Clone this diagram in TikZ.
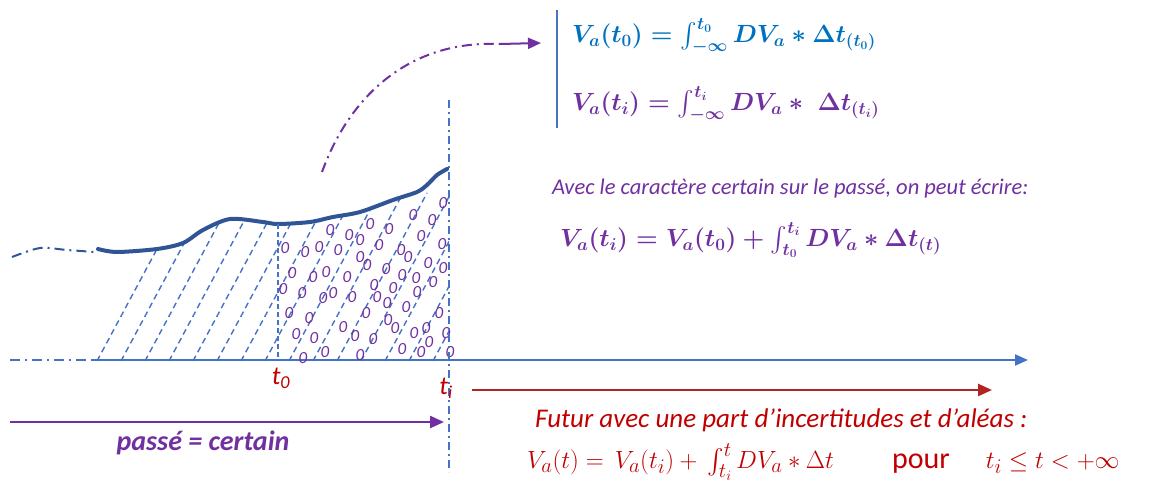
\documentclass[tikz,border=0pt]{standalone}
\usepackage{amsmath}
\usepackage{fontspec}
\setmainfont{Carlito}
\usetikzlibrary{arrows.meta}

\definecolor{axisblue}{RGB}{68,114,196}
\definecolor{curveblue}{RGB}{47,85,151}
\definecolor{eqblue}{RGB}{0,112,192}
\definecolor{pastpurple}{RGB}{112,48,160}
\definecolor{futred}{RGB}{192,0,0}
\definecolor{arrowred}{RGB}{176,36,36}

\begin{document}
\begin{tikzpicture}[
    x=1pt, y=-1pt,
    axis/.style={axisblue, line width=2pt},
    dashdot/.style={dash pattern=on 10pt off 5pt on 2pt off 5pt},
    hatch/.style={axisblue, line width=1.4pt, dash pattern=on 6pt off 4pt},
    omark/.style={pastpurple, font=\fontsize{17}{17}\selectfont\itshape, inner sep=0pt},
    tick label/.style={futred, font=\fontsize{26}{26}\selectfont\itshape, inner sep=0pt},
    equation/.style={anchor=west, inner sep=0pt, font=\fontsize{30}{32}\selectfont},
    bold equation/.style={anchor=west, inner sep=0pt, font=\fontsize{23}{26}\selectfont\mathversion{bold}},
    comment/.style={anchor=west, inner sep=0pt, font=\fontsize{22.5}{26}\selectfont\itshape},
    big arrow/.style={line width=2.5pt, -{Triangle[length=14pt,width=12pt]}}
  ]
  \useasboundingbox (0,0) rectangle (1155,485);

  % Time axis
  \coordinate (A-left) at (10,360);
  \coordinate (A-start) at (92,360);
  \coordinate (A-end) at (1028,360);
  \draw[axis, dashdot] (A-left) -- (A-start);
  \draw[axis, -{Triangle[length=13pt,width=11pt]}] (A-start) -- (A-end);

  % Hatching under the curve
  \begin{scope}
    \clip (95,361) -- (155,250) -- (183,243) -- (203,230) -- (230,219) -- (263,222)
      -- (278,224) -- (310,222) -- (333,217) -- (360,212) -- (393,200) -- (417,192)
      -- (427,185) -- (437,175) -- (449,168) -- (449,361) -- cycle;
    \foreach \k in {0,...,17}
      \draw[hatch] (97+24*\k,361) -- ++(90,-168);
  \end{scope}

  % Uncertainty marks between t0 and ti
  \foreach \x/\y [count=\n] in {285/248, 305/252, 319/247, 330/230, 338/250, 349/235,
      360/240, 370/224, 379/245, 389/229, 401/250, 408/257, 413/215, 421/236,
      432/220, 443/203, 442/244, 428/263, 443/268, 433/282, 417/292, 416/278,
      402/275, 393/288, 386/269, 367/265, 360/257, 374/285, 377/297, 347/277,
      326/272, 313/277, 292/273, 283/289, 302/293, 323/298, 333/293, 352/297,
      387/303, 406/307, 388/320, 395/328, 366/313, 343/327, 355/336, 373/339,
      309/318, 289/313, 296/334, 314/338, 325/352, 303/358, 360/355, 402/349,
      421/352, 429/342, 426/328, 414/333, 439/313, 446/333, 450/352}
    \node[omark] (o-\n) at (\x,\y) {0};

  % Value curve
  \draw[curveblue, line width=2pt, dashdot] plot[smooth] coordinates {(12,257) (40,248) (67,250) (95,252)};
  \draw[curveblue, line width=4pt, line cap=round, line join=round]
    plot[smooth, tension=0.5] coordinates {(98,249) (117,252) (157,249) (183,243)
      (203,230) (230,219) (263,222) (278,224) (310,222) (333,217) (360,212)
      (393,200) (417,192) (427,185) (437,175) (447,169)};

  % Time marks
  \coordinate (t0-top) at (278,224);
  \coordinate (t0-foot) at (278,360);
  \coordinate (ti-top) at (449,100);
  \coordinate (ti-foot) at (449,472);
  \draw[axisblue, line width=1.5pt, dash pattern=on 5pt off 3pt] (t0-top) -- (t0-foot);
  \draw[axisblue, line width=1.8pt, dash pattern=on 8pt off 4pt on 2pt off 4pt] (ti-top) -- (ti-foot);
  \node[tick label] (t0) at (281,378) {t\textsubscript{0}};
  \node[tick label] (ti) at (446,388) {t\textsubscript{i}};

  % Past
  \coordinate (P-start) at (10,422);
  \coordinate (P-end) at (444,422);
  \draw[pastpurple, big arrow] (P-start) -- (P-end);
  \node[pastpurple, font=\fontsize{28}{30}\selectfont\bfseries\itshape] (past) at (203,443) {passé = certain};

  % Future
  \coordinate (F-start) at (472,390);
  \coordinate (F-end) at (992,390);
  \draw[arrowred, big arrow] (F-start) -- (F-end);
  \node[comment, futred, font=\fontsize{27}{30}\selectfont\itshape] (future) at (535,420) {Futur avec une part d’incertitudes et d’aléas :};
  \node[equation, futred] (future-eq) at (527,462)
    {$V_a(t) = \,V_a(t_i) + \,\int_{t_i}^{t} DV_a * \Delta t$\hspace{58pt}pour\hspace{36pt}$t_i \le t < +\infty$};

  % Integral definitions
  \coordinate (B-top) at (557,10);
  \coordinate (B-bot) at (557,128);
  \draw[axisblue, line width=2pt] (B-top) -- (B-bot);
  \node[bold equation, eqblue] (eq-a) at (572,36)
    {$V_a(t_0) = \int_{-\infty}^{t_0} DV_a * \Delta t_{(t_0)}$};
  \node[bold equation, pastpurple] (eq-b) at (572,104)
    {$V_a(t_i) = \int_{-\infty}^{t_i} DV_a * \;\Delta t_{(t_i)}$};

  % Link from the curve to the definitions
  \coordinate (C-start) at (322,172);
  \coordinate (C-mid) at (500,44);
  \coordinate (C-end) at (541,43);
  \draw[pastpurple, line width=2pt, dashdot] (C-start) .. controls (350,95) and (410,40) .. (C-mid);
  \draw[pastpurple, line width=2pt, -{Triangle[length=13pt,width=11pt]}] (C-mid) -- (C-end);

  % Certain past
  \node[comment, pastpurple] (certain) at (552,188)
    {Avec le caractère certain sur le passé, on peut écrire:};
  \node[bold equation, pastpurple] (eq-c) at (560,240)
    {$V_a(t_i) = V_a(t_0) + \int_{t_0}^{t_i} DV_a * \Delta t_{(t)}$};
\end{tikzpicture}
\end{document}
